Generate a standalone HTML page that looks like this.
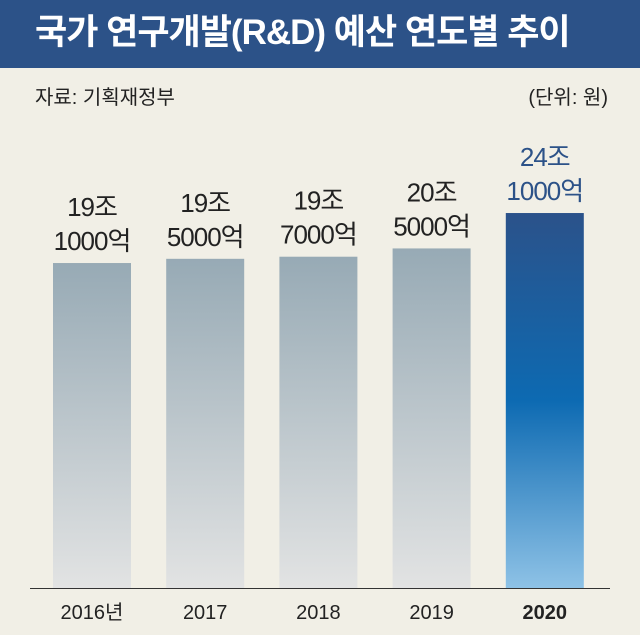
<!DOCTYPE html>
<html><head><meta charset="utf-8">
<style>
body{margin:0;width:640px;height:635px;background:#f1efe6;font-family:"Liberation Sans","Noto Sans CJK KR",sans-serif;overflow:hidden;position:relative}
.title{position:absolute;left:0;top:0;width:640px;height:68px;background:#2c5288;color:#fff;font-size:35px;font-weight:bold;line-height:66px;padding-left:35px;box-sizing:border-box;letter-spacing:-1px}
.src{position:absolute;top:81px;font-size:20px;color:#222}
</style></head><body>
<div class="title">국가 연구개발(R&amp;D) 예산 연도별 추이</div>
<div class="src" style="left:35px">자료: 기획재정부</div>
<div class="src" style="right:32px">(단위: 원)</div>
<svg id="chart" width="640" height="635" style="position:absolute;left:0;top:0">
<defs>
<linearGradient id="g1" x1="0" y1="0" x2="0" y2="1"><stop offset="0" stop-color="#97aab5"/><stop offset="1" stop-color="#e2e3e3"/></linearGradient>
<linearGradient id="g2" x1="0" y1="0" x2="0" y2="1"><stop offset="0" stop-color="#2b528a"/><stop offset="0.5" stop-color="#0d6ab2"/><stop offset="1" stop-color="#8ec2e6"/></linearGradient>
</defs>
</svg>
<script>
const categories=["2016년","2017","2018","2019","2020"];
const values=[19.1,19.5,19.7,20.5,24.1];
const labelTop=["19조","19조","19조","20조","24조"];
const labelBottom=["1000억","5000억","7000억","5000억","1000억"];
const svg=document.getElementById('chart');
const NS="http://www.w3.org/2000/svg";
const baseY=588, x0=53, step=113.2, bw=78;
// compressed (sqrt) scale, as in the original infographic
function yScale(v){return baseY-(-80.6+92.8*Math.sqrt(v));}
function xScale(i){return x0+i*step;}
const axis=document.createElementNS(NS,'line');


axis.setAttribute('x1',30);axis.setAttribute('x2',610);axis.setAttribute('y1',baseY+0.5);axis.setAttribute('y2',baseY+0.5);
axis.setAttribute('stroke','#333');axis.setAttribute('stroke-width',1);
svg.appendChild(axis);
values.forEach((v,i)=>{
  const last=i===values.length-1;
  const r=document.createElementNS(NS,'rect');
  
  
  r.setAttribute('x',xScale(i));r.setAttribute('y',yScale(v));
  r.setAttribute('width',bw);r.setAttribute('height',baseY-yScale(v));
  r.setAttribute('fill',last?'url(#g2)':'url(#g1)');
  svg.appendChild(r);
  [labelTop[i],labelBottom[i]].forEach((t,j)=>{
    const tx=document.createElementNS(NS,'text');
    
    
    tx.setAttribute('x',xScale(i)+bw/2);
    tx.setAttribute('y',yScale(v)-47+j*34);
    tx.setAttribute('text-anchor','middle');
    tx.setAttribute('font-size','26');
    tx.setAttribute('fill',last?'#2c5288':'#222');
    tx.setAttribute('letter-spacing','-1');
    tx.textContent=t;
    svg.appendChild(tx);
  });
  const c=document.createElementNS(NS,'text');
  
  
  c.setAttribute('x',xScale(i)+bw/2);c.setAttribute('y',619);
  c.setAttribute('text-anchor','middle');c.setAttribute('font-size','20');
  c.setAttribute('fill','#222');
  if(last)c.setAttribute('font-weight','bold');
  c.textContent=categories[i];
  svg.appendChild(c);
});
</script>
</body></html>
